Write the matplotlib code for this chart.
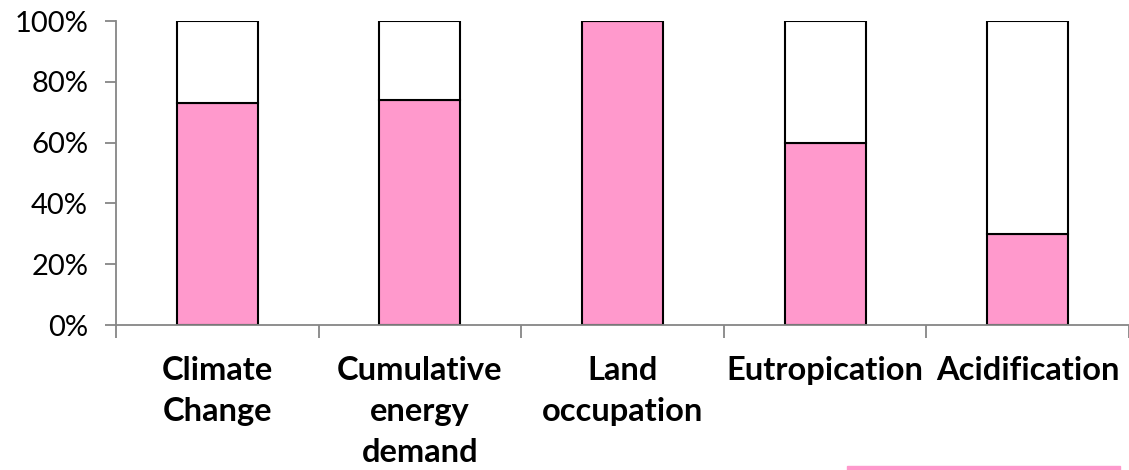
import numpy as np
import matplotlib.pyplot as plt
from matplotlib.patches import Rectangle

categories = ['Climate\nChange', 'Cumulative\nenergy\ndemand', 'Land\noccupation',
              'Eutropication', 'Acidification']
share = np.array([73, 74, 100, 60, 30])
rest = 100 - share
yticks = [0, 20, 40, 60, 80, 100]

pink = '#ff99cc'
grey = '#868686'

fig = plt.figure(figsize=(11.29, 4.70), dpi=100)
ax = fig.add_axes([0.1027, 0.3085, 0.8973, 0.6468])

x = np.arange(len(categories))
ax.bar(x, share, width=0.4, color=pink, edgecolor='black', linewidth=1.5)
ax.bar(x, rest, width=0.4, bottom=share, color='white', edgecolor='black', linewidth=1.5)

ax.set_xlim(-0.5, len(categories) - 0.5)
ax.set_ylim(0, 100)
ax.set_yticks(yticks)
ax.set_yticklabels([f'{v}%' for v in yticks], fontsize=21, family='Lato')

ax.set_xticks(np.arange(len(categories) + 1) - 0.5)
ax.set_xticklabels([])
ax.set_xticks(x, minor=True)
ax.set_xticklabels(categories, minor=True, fontsize=23.5, fontweight='bold',
                   family='Lato', linespacing=1.5, va='top')
ax.tick_params(axis='x', which='minor', length=0, pad=22)
ax.tick_params(axis='x', which='major', length=9, color=grey, width=1.3)
ax.tick_params(axis='y', length=8, color=grey, width=1.3, pad=12)

for s in ['top', 'right']:
    ax.spines[s].set_visible(False)
for s in ['left', 'bottom']:
    ax.spines[s].set_color(grey)
    ax.spines[s].set_linewidth(1.3)

# partially visible legend box at the bottom edge
fig.patches.append(Rectangle((847 / 1129, 0), 273 / 1129, 4 / 470,
                             transform=fig.transFigure, color=pink))

fig.savefig('out.png', dpi=100)
